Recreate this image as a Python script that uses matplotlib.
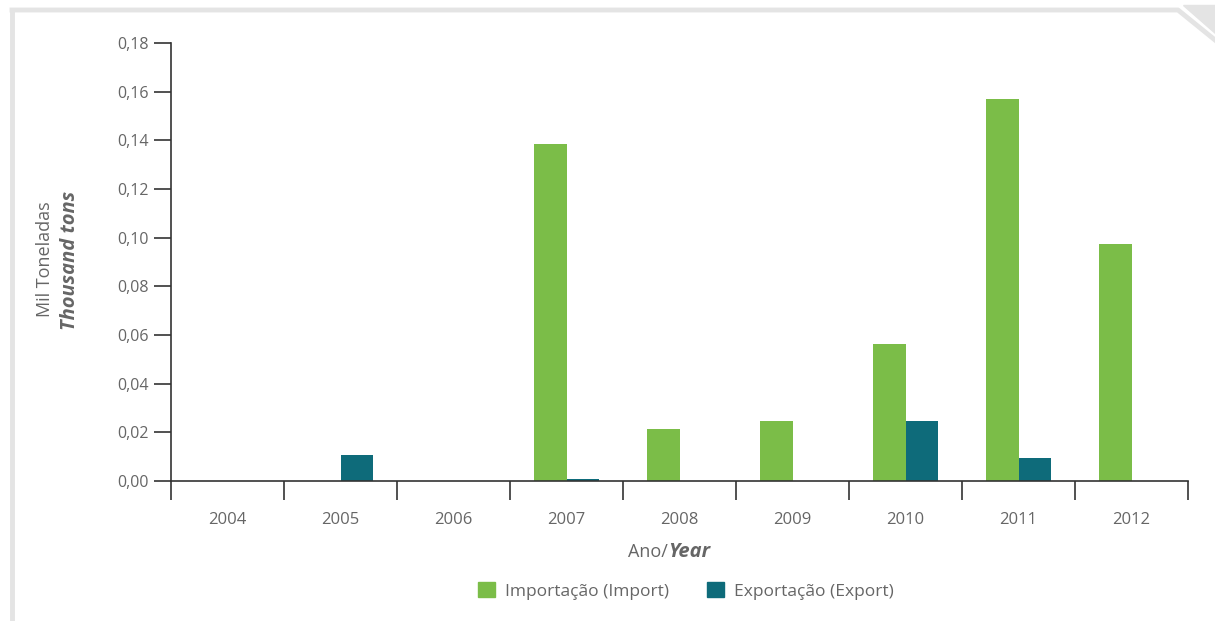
import matplotlib.pyplot as plt
import numpy as np
from matplotlib.patches import Patch, Polygon
from matplotlib.lines import Line2D
from matplotlib.ticker import FuncFormatter, FixedLocator

plt.rcParams['font.family'] = ['Open Sans', 'DejaVu Sans']

years = ['2004', '2005', '2006', '2007', '2008', '2009', '2010', '2011', '2012']
importacao = [0, 0, 0, 0.1385, 0.0214, 0.0247, 0.0563, 0.1570, 0.0974]
exportacao = [0, 0.0107, 0, 0.0008, 0, 0, 0.0247, 0.0095, 0]

green = '#7bbd48'
teal = '#0e6b7a'
gray = '#666666'

fig = plt.figure(figsize=(12.15, 6.21), dpi=100)
ax = fig.add_axes([171/1215, 1-481/621, (1188-171)/1215, (481-43)/621])

index = np.arange(len(years))
w = 0.29
ax.bar(index - w/2, importacao, width=w, color=green)
ax.bar(index + w/2, exportacao, width=w, color=teal)

ax.set_xlim(-0.5, len(years) - 0.5)
ax.set_ylim(0, 0.18)
ax.set_yticks(np.arange(0, 0.181, 0.02))
ax.yaxis.set_major_formatter(FuncFormatter(lambda v, p: ('%.2f' % v).replace('.', ',')))

# category boundaries as ticks, labels at the centres
ax.xaxis.set_major_locator(FixedLocator(np.arange(-0.5, len(years), 1)))
ax.set_xticklabels([])
ax.set_xticks(index, minor=True)
ax.set_xticklabels(years, minor=True)
ax.tick_params(axis='x', which='major', length=14, width=1.2, color='#333333')
ax.tick_params(axis='x', which='minor', length=0, pad=22, labelsize=12, labelcolor=gray)
ax.tick_params(axis='y', length=12, width=1.2, color='#333333', pad=4, labelsize=11.5, labelcolor=gray)

for s in ['top', 'right']:
    ax.spines[s].set_visible(False)
for s in ['left', 'bottom']:
    ax.spines[s].set_color('#333333')
    ax.spines[s].set_linewidth(1.2)

# axis titles
fig.text(668/1215, 1-552/621, 'Ano/', ha='right', va='center', fontsize=13, color=gray)
fig.text(668/1215, 1-552/621, 'Year', ha='left', va='center', fontsize=14.5, color=gray,
         fontweight='bold', fontstyle='italic')
fig.text(45/1215, 1-259/621, 'Mil Toneladas', rotation=90, ha='center', va='center',
         fontsize=13, color=gray)
fig.text(70/1215, 1-260/621, 'Thousand tons', rotation=90, ha='center', va='center',
         fontsize=14.5, color=gray, fontweight='bold', fontstyle='italic')

handles = [Patch(color=green, label='Importação (Import)'),
           Patch(color=teal, label='Exportação (Export)')]
leg = fig.legend(handles=handles, loc='center', bbox_to_anchor=(686/1215, 1-591/621), ncol=2,
                 frameon=False, fontsize=12.5, handlelength=0.95, handleheight=0.95,
                 columnspacing=2.2, handletextpad=0.6)
for t in leg.get_texts():
    t.set_color(gray)

# page frame with folded corner
fc = '#e4e4e4'
fig.add_artist(Line2D([12/1215, 12/1215], [0, 1-10/621], color=fc, lw=3.5))
fig.add_artist(Line2D([12/1215, 1178/1215, 1215/1215], [1-10/621, 1-10/621, 1-40/621], color=fc, lw=3.5))
fig.add_artist(Polygon([[1183/1215, 1-5/621], [1215/1215, 1-5/621], [1215/1215, 1-33/621]],
                       closed=True, color=fc, transform=fig.transFigure))

plt.savefig('out.png', dpi=100)
